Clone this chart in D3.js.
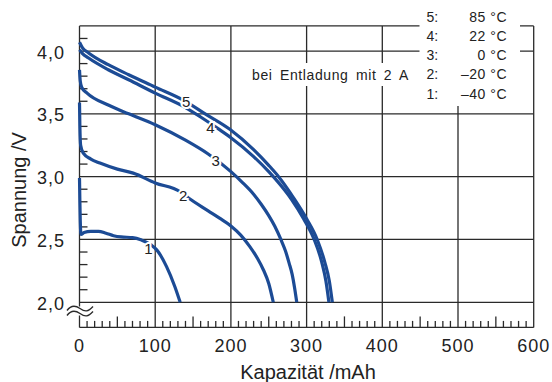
<!DOCTYPE html>
<html>
<head>
<meta charset="utf-8">
<script src="https://cdn.jsdelivr.net/npm/d3@7"></script>
<style>
  html, body { margin: 0; padding: 0; background: #fff; }
  svg { display: block; }
  text { font-family: "Liberation Sans", Arial, Helvetica, sans-serif; fill: #222; }
</style>
</head>
<body>
<svg id="chart" width="552" height="382"></svg>
<script>
// Discharge curves at 2 A for five temperatures (capacity in mAh, voltage in V)
const curve5 = [[0,4.07],[4,4.025],[12,3.985],[38,3.891],[65,3.811],[100,3.713],[140,3.6],[166,3.5],[199,3.375],[230,3.215],[250,3.09],[263,3.0],[283,2.83],[300,2.665],[314,2.5],[324,2.32],[330,2.17],[334,2.0]];
const curve4 = [[0,4.01],[4,3.98],[12,3.944],[38,3.851],[65,3.771],[100,3.665],[140,3.55],[160,3.475],[186,3.37],[200,3.31],[230,3.16],[250,3.04],[259,2.98],[280,2.82],[296,2.665],[310,2.5],[320,2.32],[325.5,2.17],[329.5,2.0]];
const curve3 = [[0,3.85],[1,3.76],[3,3.71],[10,3.665],[38,3.57],[65,3.5],[100,3.413],[140,3.29],[170,3.18],[200,3.04],[215,2.955],[230,2.86],[240,2.78],[250,2.69],[258,2.605],[266,2.5],[272,2.41],[277,2.31],[281,2.22],[284,2.12],[287,2.0]];
const curve2 = [[0,3.59],[0.5,3.4],[1.5,3.25],[5,3.187],[15,3.14],[27,3.108],[50,3.06],[71,3.028],[100,2.95],[133,2.88],[144,2.83],[170,2.728],[185,2.67],[200,2.608],[213,2.535],[225,2.443],[235,2.35],[243,2.257],[250,2.15],[256,2.0]];
const curve1 = [[0,2.99],[0.5,2.8],[1,2.65],[2,2.54],[6,2.555],[15,2.565],[25,2.565],[35,2.55],[45,2.53],[55,2.52],[70,2.515],[82,2.495],[95,2.455],[102,2.417],[115,2.284],[126,2.124],[133,2.0]];

// Curve number labels: [number, capacity, voltage]
const curveLabels = [["5",141,3.6],["4",173,3.39],["3",180,3.13],["2",137,2.85],["1",91,2.43]];

const legendNumbers = ["5:","4:","3:","2:","1:"];
const legendTemps = ["85 °C","22 °C","0 °C","–20 °C","–40 °C"];
const conditionText = "bei Entladung mit 2 A";

const xTicks = [0,100,200,300,400,500,600];
const yTicks = [2.0,2.5,3.0,3.5,4.0];
const yTickLabels = ["2,0","2,5","3,0","3,5","4,0"];
const xTitle = "Kapazität /mAh";
const yTitle = "Spannung /V";

const svg = d3.select("#chart");
const x = d3.scaleLinear().domain([0,600]).range([79.5,533.7]);
const y = d3.scaleLinear().domain([1.8,4.2]).range([327.4,25.9]);

const gridColor = "#2a2a2a";
const lineColor = "#1c4b95";

const grid = svg.append("g").attr("stroke", gridColor).attr("stroke-width", 1.3).attr("fill","none");
// horizontal lines (incl. top border)
[2.0,2.5,3.0,3.5,4.0,4.2].forEach(v => {
  grid.append("line").attr("x1", x(0)).attr("x2", x(600)).attr("y1", y(v)).attr("y2", y(v));
});
// vertical lines (incl. right border)
[100,200,300,400,500,600].forEach(v => {
  grid.append("line").attr("x1", x(v)).attr("x2", x(v)).attr("y1", y(4.2)).attr("y2", y(1.8));
});
// left axis
grid.append("line").attr("x1", x(0)).attr("x2", x(0)).attr("y1", y(4.2)).attr("y2", y(1.8));
// bottom axis
grid.append("line").attr("x1", x(0)).attr("x2", x(600)).attr("y1", y(1.8)).attr("y2", y(1.8));

// minor ticks on the capacity axis
const minor = d3.range(10, 600, 10).filter(v => v % 100 !== 0);
grid.selectAll(".xt").data(minor).join("line")
  .attr("x1", d => x(d)).attr("x2", d => x(d))
  .attr("y1", y(1.8)).attr("y2", d => y(1.8) - (d % 50 === 0 ? 11 : 6.5));

// minor ticks on the voltage axis
const yMinor = d3.range(21, 42, 1).map(v => v / 10).filter(v => Math.round(v * 10) % 5 !== 0);
grid.selectAll(".yt").data(yMinor).join("line")
  .attr("x1", x(0)).attr("x2", x(0) + 8)
  .attr("y1", d => y(d)).attr("y2", d => y(d));

// white areas behind the legend and the condition text
svg.append("rect").attr("x", 419.5).attr("y", 0).attr("width", 100.5).attr("height", 106).attr("fill", "#fff");
svg.append("rect").attr("x", 250).attr("y", 63).attr("width", 164).attr("height", 23).attr("fill", "#fff");

// axis break mark
svg.append("rect").attr("x", 72).attr("y", 306.5).attr("width", 16).attr("height", 9).attr("fill", "#fff");
const brk = svg.append("g").attr("stroke", gridColor).attr("stroke-width", 1.4).attr("fill", "none");
[308.5, 313.5].forEach(b => {
  brk.append("path").attr("d", `M67,${b+2} C71,${b-3.5} 75,${b-3.5} 80,${b} S88,${b+3.5} 93,${b-2}`);
});

// curves
const line = d3.line().x(d => x(d[0])).y(d => y(d[1])).curve(d3.curveMonotoneX);
svg.append("g").selectAll("path").data([curve1, curve2, curve3, curve4, curve5]).join("path")
  .attr("d", line).attr("fill", "none").attr("stroke", lineColor)
  .attr("stroke-width", 3.2).attr("stroke-linecap", "butt").attr("stroke-linejoin", "round");

// curve number labels with white halo
svg.append("g").selectAll("text").data(curveLabels).join("text")
  .attr("x", d => x(d[1])).attr("y", d => y(d[2]) + 5.5)
  .attr("text-anchor", "middle").attr("font-size", 15)
  .attr("stroke", "#fff").attr("stroke-width", 4).attr("paint-order", "stroke")
  .text(d => d[0]);

// axis tick labels
svg.append("g").selectAll("text").data(xTicks).join("text")
  .attr("x", d => x(d)).attr("y", 352)
  .attr("text-anchor", "middle").attr("font-size", 18).attr("letter-spacing", 1)
  .text(d => d);
svg.append("g").selectAll("text").data(yTicks).join("text")
  .attr("x", 65).attr("y", d => y(d) + 7.5)
  .attr("text-anchor", "end").attr("font-size", 18).attr("letter-spacing", 1)
  .text((d, i) => yTickLabels[i]);

// axis titles
svg.append("text").attr("x", 308).attr("y", 379).attr("text-anchor", "middle")
  .attr("font-size", 20).text(xTitle);
svg.append("text").attr("transform", "translate(26,190) rotate(-90)").attr("text-anchor", "middle")
  .attr("font-size", 20).text(yTitle);

// legend
const lg = svg.append("g").attr("font-size", 14);
lg.selectAll(".ln").data(legendNumbers).join("text")
  .attr("x", 426.5).attr("y", (d, i) => 21.7 + i * 19.2).text(d => d);
lg.selectAll(".lt").data(legendTemps).join("text")
  .attr("x", 507).attr("y", (d, i) => 21.7 + i * 19.2).attr("text-anchor", "end")
  .attr("letter-spacing", 0.5).text(d => d);
svg.append("text").attr("x", 252).attr("y", 79.5).attr("font-size", 14)
  .attr("letter-spacing", 0.6).attr("word-spacing", 3).text(conditionText);
</script>
</body>
</html>
